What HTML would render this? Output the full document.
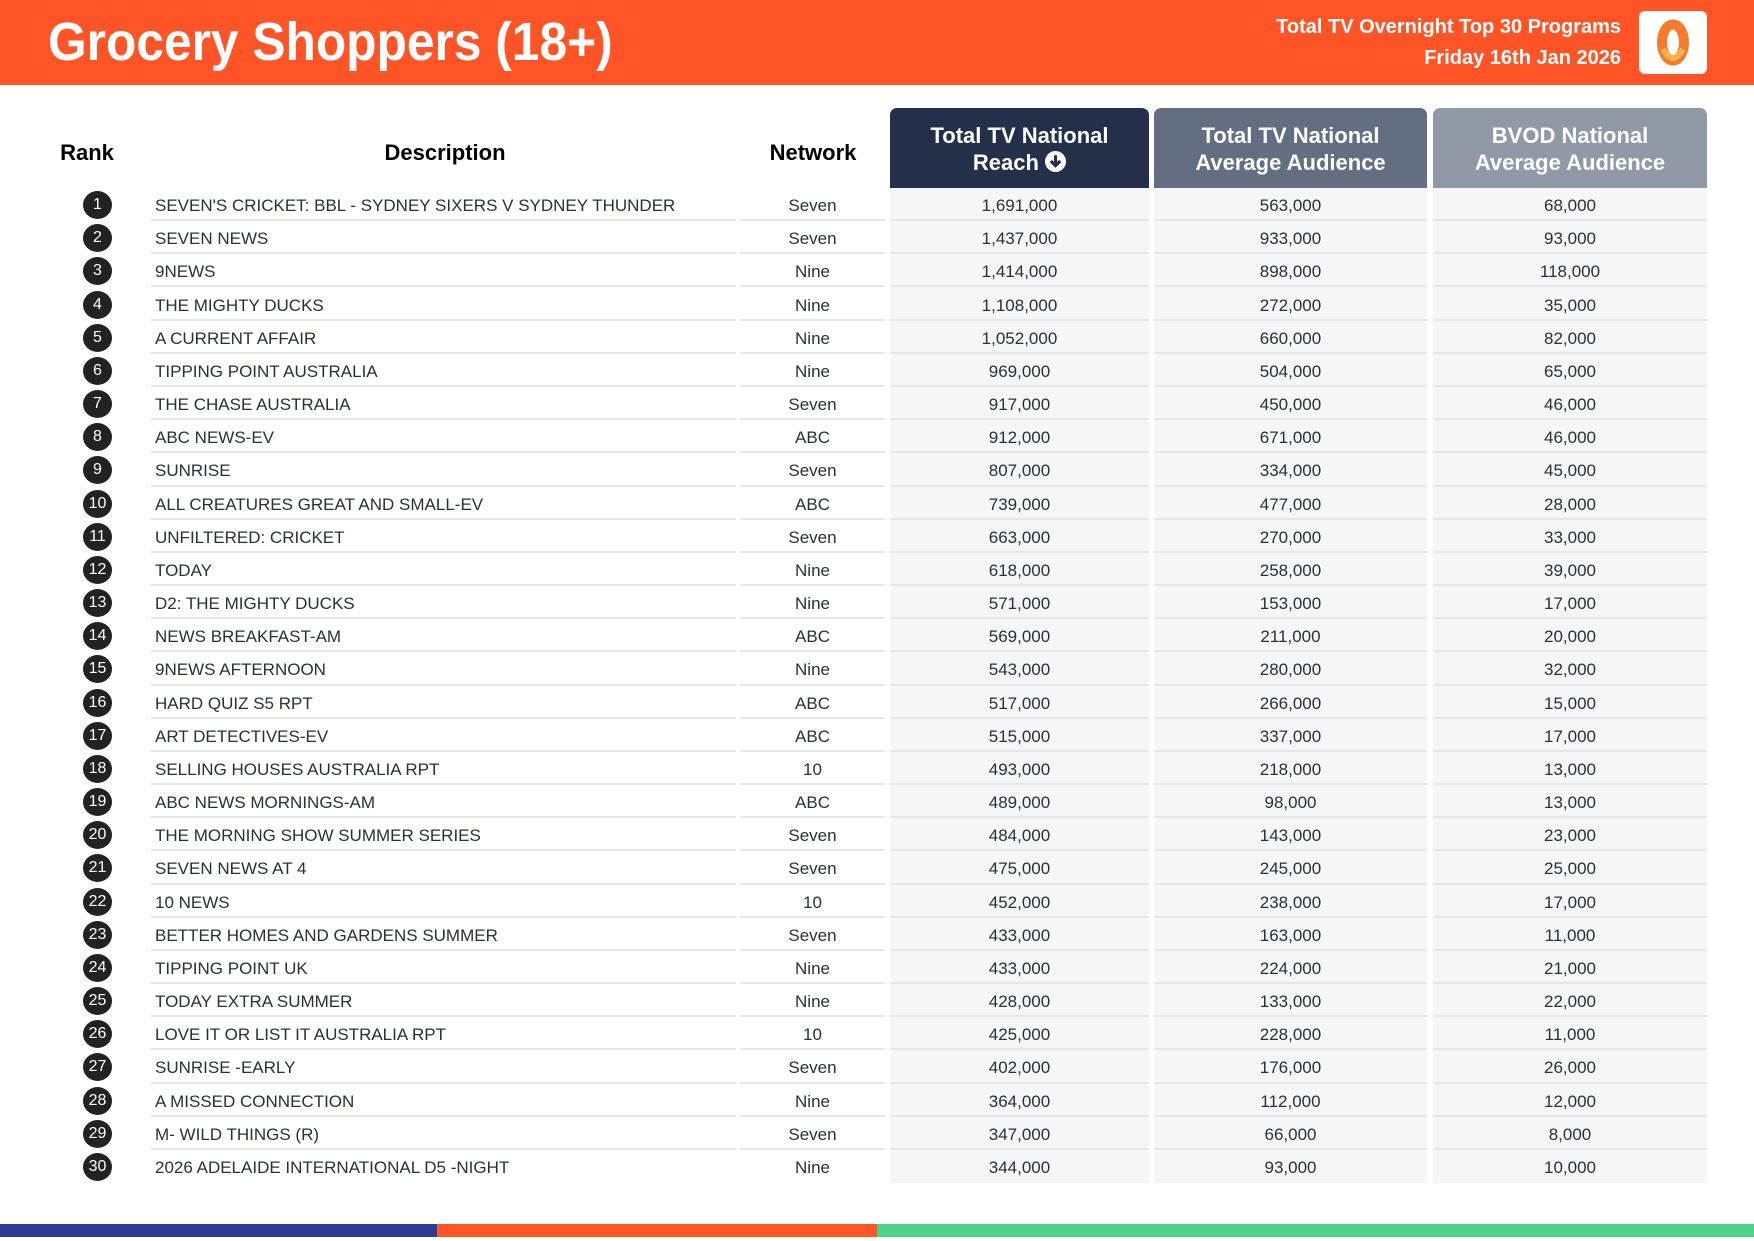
<!DOCTYPE html>
<html><head><meta charset="utf-8"><style>
*{margin:0;padding:0;box-sizing:border-box}
body{width:1754px;height:1241px;background:#fff;position:relative;overflow:hidden;font-family:"Liberation Sans",sans-serif}
.hdr{position:absolute;left:0;top:0;width:1754px;height:85px;background:#ff5526}
.title{position:absolute;left:48px;top:10px;font-size:54px;font-weight:bold;color:#fff;line-height:64px;transform:scaleX(0.92);transform-origin:0 0;white-space:nowrap}
.sub{position:absolute;right:133px;font-size:20px;font-weight:bold;color:#fff;text-align:right;line-height:24px}
.logo{position:absolute;left:1639px;top:11px;width:68px;height:63px;background:#fff;border-radius:6px}
.ch{position:absolute;top:140px;font-size:22px;font-weight:bold;color:#000;transform:translateX(-50%);white-space:nowrap}
.hc{position:absolute;top:108px;height:80px;border-radius:7px 7px 0 0;color:#fff;font-size:22px;font-weight:bold;text-align:center;line-height:27px;padding-top:14px}
.col{position:absolute;top:188px;height:995px;background:#f6f6f6}
.row{position:absolute;left:0;width:1754px;height:33.17px}
.row .c{position:absolute;top:0;height:33.17px;line-height:35px;font-size:17px;color:#2a2f3a;border-bottom:2px solid #e6e6e6}
.rk{position:absolute;left:83px;top:3px;width:29px;height:28px;border-radius:50%;background:#222;color:#fff;font-size:16px;text-align:center;line-height:28px}
.d{left:151px;width:585px;padding-left:4px}
.n{left:740px;width:145px;text-align:center}
.v1{left:890px;width:259px;text-align:center}
.v2{left:1154px;width:273px;text-align:center}
.v3{left:1433px;width:274px;text-align:center}
.bar{position:absolute;top:1224px;height:13px}
</style></head><body>
<div class="hdr"></div>
<div class="title">Grocery Shoppers (18+)</div>
<div class="sub" style="top:15px">Total TV Overnight Top 30 Programs</div>
<div class="sub" style="top:46px">Friday 16th Jan 2026</div>
<div class="logo"><svg width="68" height="63" viewBox="0 0 68 63"><ellipse cx="34" cy="31.5" rx="11" ry="18" fill="none" stroke="#f47a2c" stroke-width="10"/><path d="M24 38 Q34 56 44 38" stroke="#fbb24e" stroke-width="6" fill="none"/></svg></div>
<div class="ch" style="left:87px">Rank</div>
<div class="ch" style="left:445px">Description</div>
<div class="ch" style="left:813px">Network</div>
<div class="col" style="left:890px;width:259px"></div>
<div class="col" style="left:1154px;width:273px"></div>
<div class="col" style="left:1433px;width:274px"></div>
<div class="hc" style="left:890px;width:259px;background:#243049">Total TV National<br>Reach <svg width="21" height="21" viewBox="0 0 20 20" style="vertical-align:-2px"><circle cx="10" cy="10" r="10" fill="#fff"/><path d="M10 4v10M5.5 9.5L10 14l4.5-4.5" stroke="#243049" stroke-width="3" fill="none"/></svg></div>
<div class="hc" style="left:1154px;width:273px;background:#646e82">Total TV National<br>Average Audience</div>
<div class="hc" style="left:1433px;width:274px;background:#9199a6">BVOD National<br>Average Audience</div>
<div class="bar" style="left:0;width:437px;background:#2e3a94"></div>
<div class="bar" style="left:437px;width:440px;background:#ff5526"></div>
<div class="bar" style="left:877px;width:877px;background:#4fd18b"></div>
<div class="row" style="top:188.00px"><div class="rk">1</div><div class="c d">SEVEN'S CRICKET: BBL - SYDNEY SIXERS V SYDNEY THUNDER</div><div class="c n">Seven</div><div class="c v1">1,691,000</div><div class="c v2">563,000</div><div class="c v3">68,000</div></div>
<div class="row" style="top:221.17px"><div class="rk">2</div><div class="c d">SEVEN NEWS</div><div class="c n">Seven</div><div class="c v1">1,437,000</div><div class="c v2">933,000</div><div class="c v3">93,000</div></div>
<div class="row" style="top:254.34px"><div class="rk">3</div><div class="c d">9NEWS</div><div class="c n">Nine</div><div class="c v1">1,414,000</div><div class="c v2">898,000</div><div class="c v3">118,000</div></div>
<div class="row" style="top:287.51px"><div class="rk">4</div><div class="c d">THE MIGHTY DUCKS</div><div class="c n">Nine</div><div class="c v1">1,108,000</div><div class="c v2">272,000</div><div class="c v3">35,000</div></div>
<div class="row" style="top:320.68px"><div class="rk">5</div><div class="c d">A CURRENT AFFAIR</div><div class="c n">Nine</div><div class="c v1">1,052,000</div><div class="c v2">660,000</div><div class="c v3">82,000</div></div>
<div class="row" style="top:353.85px"><div class="rk">6</div><div class="c d">TIPPING POINT AUSTRALIA</div><div class="c n">Nine</div><div class="c v1">969,000</div><div class="c v2">504,000</div><div class="c v3">65,000</div></div>
<div class="row" style="top:387.02px"><div class="rk">7</div><div class="c d">THE CHASE AUSTRALIA</div><div class="c n">Seven</div><div class="c v1">917,000</div><div class="c v2">450,000</div><div class="c v3">46,000</div></div>
<div class="row" style="top:420.19px"><div class="rk">8</div><div class="c d">ABC NEWS-EV</div><div class="c n">ABC</div><div class="c v1">912,000</div><div class="c v2">671,000</div><div class="c v3">46,000</div></div>
<div class="row" style="top:453.36px"><div class="rk">9</div><div class="c d">SUNRISE</div><div class="c n">Seven</div><div class="c v1">807,000</div><div class="c v2">334,000</div><div class="c v3">45,000</div></div>
<div class="row" style="top:486.53px"><div class="rk">10</div><div class="c d">ALL CREATURES GREAT AND SMALL-EV</div><div class="c n">ABC</div><div class="c v1">739,000</div><div class="c v2">477,000</div><div class="c v3">28,000</div></div>
<div class="row" style="top:519.70px"><div class="rk">11</div><div class="c d">UNFILTERED: CRICKET</div><div class="c n">Seven</div><div class="c v1">663,000</div><div class="c v2">270,000</div><div class="c v3">33,000</div></div>
<div class="row" style="top:552.87px"><div class="rk">12</div><div class="c d">TODAY</div><div class="c n">Nine</div><div class="c v1">618,000</div><div class="c v2">258,000</div><div class="c v3">39,000</div></div>
<div class="row" style="top:586.04px"><div class="rk">13</div><div class="c d">D2: THE MIGHTY DUCKS</div><div class="c n">Nine</div><div class="c v1">571,000</div><div class="c v2">153,000</div><div class="c v3">17,000</div></div>
<div class="row" style="top:619.21px"><div class="rk">14</div><div class="c d">NEWS BREAKFAST-AM</div><div class="c n">ABC</div><div class="c v1">569,000</div><div class="c v2">211,000</div><div class="c v3">20,000</div></div>
<div class="row" style="top:652.38px"><div class="rk">15</div><div class="c d">9NEWS AFTERNOON</div><div class="c n">Nine</div><div class="c v1">543,000</div><div class="c v2">280,000</div><div class="c v3">32,000</div></div>
<div class="row" style="top:685.55px"><div class="rk">16</div><div class="c d">HARD QUIZ S5 RPT</div><div class="c n">ABC</div><div class="c v1">517,000</div><div class="c v2">266,000</div><div class="c v3">15,000</div></div>
<div class="row" style="top:718.72px"><div class="rk">17</div><div class="c d">ART DETECTIVES-EV</div><div class="c n">ABC</div><div class="c v1">515,000</div><div class="c v2">337,000</div><div class="c v3">17,000</div></div>
<div class="row" style="top:751.89px"><div class="rk">18</div><div class="c d">SELLING HOUSES AUSTRALIA RPT</div><div class="c n">10</div><div class="c v1">493,000</div><div class="c v2">218,000</div><div class="c v3">13,000</div></div>
<div class="row" style="top:785.06px"><div class="rk">19</div><div class="c d">ABC NEWS MORNINGS-AM</div><div class="c n">ABC</div><div class="c v1">489,000</div><div class="c v2">98,000</div><div class="c v3">13,000</div></div>
<div class="row" style="top:818.23px"><div class="rk">20</div><div class="c d">THE MORNING SHOW SUMMER SERIES</div><div class="c n">Seven</div><div class="c v1">484,000</div><div class="c v2">143,000</div><div class="c v3">23,000</div></div>
<div class="row" style="top:851.40px"><div class="rk">21</div><div class="c d">SEVEN NEWS AT 4</div><div class="c n">Seven</div><div class="c v1">475,000</div><div class="c v2">245,000</div><div class="c v3">25,000</div></div>
<div class="row" style="top:884.57px"><div class="rk">22</div><div class="c d">10 NEWS</div><div class="c n">10</div><div class="c v1">452,000</div><div class="c v2">238,000</div><div class="c v3">17,000</div></div>
<div class="row" style="top:917.74px"><div class="rk">23</div><div class="c d">BETTER HOMES AND GARDENS SUMMER</div><div class="c n">Seven</div><div class="c v1">433,000</div><div class="c v2">163,000</div><div class="c v3">11,000</div></div>
<div class="row" style="top:950.91px"><div class="rk">24</div><div class="c d">TIPPING POINT UK</div><div class="c n">Nine</div><div class="c v1">433,000</div><div class="c v2">224,000</div><div class="c v3">21,000</div></div>
<div class="row" style="top:984.08px"><div class="rk">25</div><div class="c d">TODAY EXTRA SUMMER</div><div class="c n">Nine</div><div class="c v1">428,000</div><div class="c v2">133,000</div><div class="c v3">22,000</div></div>
<div class="row" style="top:1017.25px"><div class="rk">26</div><div class="c d">LOVE IT OR LIST IT AUSTRALIA RPT</div><div class="c n">10</div><div class="c v1">425,000</div><div class="c v2">228,000</div><div class="c v3">11,000</div></div>
<div class="row" style="top:1050.42px"><div class="rk">27</div><div class="c d">SUNRISE -EARLY</div><div class="c n">Seven</div><div class="c v1">402,000</div><div class="c v2">176,000</div><div class="c v3">26,000</div></div>
<div class="row" style="top:1083.59px"><div class="rk">28</div><div class="c d">A MISSED CONNECTION</div><div class="c n">Nine</div><div class="c v1">364,000</div><div class="c v2">112,000</div><div class="c v3">12,000</div></div>
<div class="row" style="top:1116.76px"><div class="rk">29</div><div class="c d">M- WILD THINGS (R)</div><div class="c n">Seven</div><div class="c v1">347,000</div><div class="c v2">66,000</div><div class="c v3">8,000</div></div>
<div class="row" style="top:1149.93px"><div class="rk">30</div><div class="c d" style="border:0">2026 ADELAIDE INTERNATIONAL D5 -NIGHT</div><div class="c n" style="border:0">Nine</div><div class="c v1" style="border:0">344,000</div><div class="c v2" style="border:0">93,000</div><div class="c v3" style="border:0">10,000</div></div>
</body></html>
